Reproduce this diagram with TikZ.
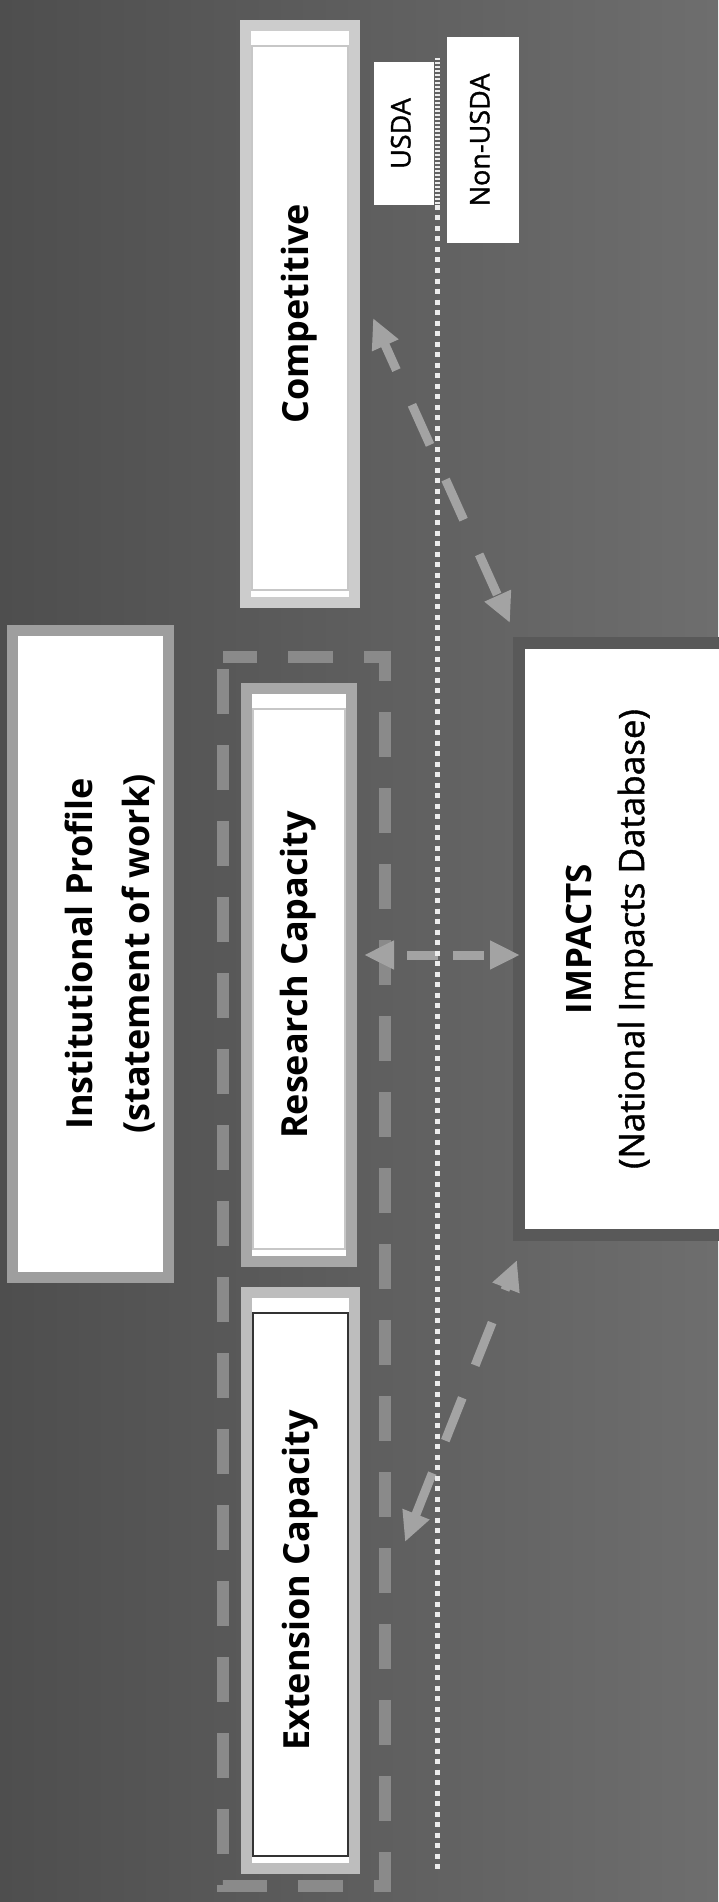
\documentclass[tikz,border=0pt]{standalone}
\usepackage{fontspec}
\setmainfont{Open Sans}
\newfontfamily\medfont{Open Sans}[FakeBold=1.2]
\usepackage{graphicx}
\usepackage{xcolor}
\usetikzlibrary{arrows.meta, positioning}

\definecolor{bgdark}{HTML}{4E4E4E}
\definecolor{bglight}{HTML}{6E6E6E}
\definecolor{arrowgray}{HTML}{A3A3A3}
\definecolor{framegray}{HTML}{8A8A8A}
\definecolor{dotwhite}{HTML}{ECECEC}
\definecolor{impframe}{HTML}{595959}

\newcommand{\vlabel}[1]{\rotatebox{90}{\begin{tabular}{@{}c@{}}#1\end{tabular}}}

\begin{document}
\begin{tikzpicture}[
  x=1pt, y=-1pt,
  capbox/.style={draw=#1, line width=11pt, fill=white, inner sep=0pt,
    font=\fontsize{36}{43}\selectfont\bfseries},
  innerline/.style={draw=#1, line width=1.5pt},
  tagbox/.style={fill=white, inner sep=0pt, font=\fontsize{27}{32}\medfont},
  grpframe/.style={draw=framegray, line width=12pt, dash pattern=on 45pt off 31pt, dash phase=11pt},
  divline/.style={draw=dotwhite, line width=5pt},
  arr/.style={draw=arrowgray, line width=9pt, >={Triangle[length=30pt, width=27pt]}, <->}
]
% background
\fill[left color=bgdark, right color=bglight] (0,0) rectangle (718,1902);
\useasboundingbox (0,0) rectangle (718,1902);

% funding boxes
\node[capbox=black!20, minimum width=109pt, minimum height=577pt] (comp) at (300,314) {\vlabel{Competitive}};
\node[capbox=black!34, minimum width=105pt, minimum height=573pt] (research) at (299,975) {\vlabel{Research Capacity}};
\node[capbox=black!26, minimum width=108pt, minimum height=576pt] (extension) at (300.5,1580.5) {\vlabel{Extension Capacity}};
\node[capbox=black!38, minimum width=156pt, minimum height=647pt, font=\fontsize{36}{57}\selectfont\bfseries] (profile) at (90.5,954)
  {\hspace*{38pt}\vlabel{Institutional Profile\\(statement of work)}};
\node[draw=impframe, line width=12pt, fill=white, inner sep=0pt, minimum width=221pt, minimum height=592pt,
  font=\fontsize{35}{53}\medfont] (impacts) at (629.5,939)
  {\vlabel{{\normalfont\bfseries IMPACTS}\\(National Impacts Database)}\hspace*{45pt}};

\node[tagbox, minimum width=60pt, minimum height=143pt] (usda) at (404,133.5) {\vlabel{USDA}};
\node[tagbox, minimum width=72pt, minimum height=206pt] (nonusda) at (483,140) {\vlabel{Non-USDA}};

\draw[innerline=black!22] ([xshift=12pt,yshift=-26pt]comp.north west) rectangle ([xshift=-12pt,yshift=18pt]comp.south east);
\draw[innerline=black!22] ([xshift=12pt,yshift=-26pt]research.north west) rectangle ([xshift=-12pt,yshift=18pt]research.south east);
\draw[innerline=black!80] ([xshift=12pt,yshift=-26pt]extension.north west) rectangle ([xshift=-12pt,yshift=18pt]extension.south east);

% capacity group
\draw[grpframe] ([xshift=-18pt,yshift=26pt]research.north west) -- ([xshift=25pt,yshift=26pt]research.north east -| extension.east)
  -- ([xshift=25pt,yshift=-12pt]extension.south east) -- ([xshift=-18pt,yshift=-12pt]extension.south west) -- cycle;

% flows to and from IMPACTS
\draw[arr, dash pattern=on 44pt off 38pt, dash phase=15pt] ([xshift=13pt,yshift=-4pt]comp.east) -- ([xshift=-3pt,yshift=14pt]impacts.north west);
\draw[arr, dash pattern=on 31pt off 15pt, dash phase=31pt] ([xshift=7pt,yshift=20pt]research.east) -- ([xshift=7pt,yshift=-16pt]impacts.west);
\draw[arr, dash pattern=on 46pt off 35pt] ([xshift=45pt,yshift=38.5pt]extension.east) -- ([xshift=4pt,yshift=-19pt]impacts.south west);

% USDA / Non-USDA divide
\coordinate (divtop) at (437,58);
\coordinate (divmid) at (437,205);
\coordinate (divbot) at (437,1870);
\draw[divline, dash pattern=on 2pt off 2pt] (divtop) -- (divmid);
\draw[divline, dash pattern=on 5pt off 5.5pt] (divmid) -- (divbot);
\end{tikzpicture}
\end{document}
